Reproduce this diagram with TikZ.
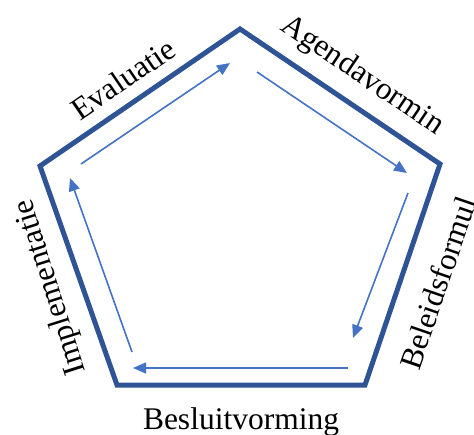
\documentclass[tikz,border=0pt]{standalone}
\usepackage{fontspec}
\setmainfont{Liberation Serif}
\usetikzlibrary{arrows.meta}

\definecolor{rand}{HTML}{2F5496}
\definecolor{pijl}{HTML}{4472C4}

\begin{document}
\begin{tikzpicture}[x=1pt,y=-1pt,
  fase/.style={font=\fontsize{31.5}{36}\selectfont, inner sep=0pt},
  stap/.style={-{Triangle[length=13pt,width=11pt]}, pijl, line width=1.6pt}]
\useasboundingbox (0,0) rectangle (474,434);

% hoekpunten van de vijfhoek
\coordinate (top) at (240,29);
\coordinate (re) at (440,164);
\coordinate (rb) at (365,385);
\coordinate (lb) at (117,385);
\coordinate (li) at (40,166);

\draw[rand, line width=5pt, line join=miter] (top)--(re)--(rb)--(lb)--(li)--cycle;

% pijlen binnen
\coordinate (a1) at (81,164);  \coordinate (b1) at (230,63);
\coordinate (a2) at (257,72);  \coordinate (b2) at (407,173);
\coordinate (a3) at (408,193); \coordinate (b3) at (353,338);
\coordinate (a4) at (348,368); \coordinate (b4) at (133,368);
\coordinate (a5) at (132,352); \coordinate (b5) at (70,178);

\draw[stap] (a1) -- (b1);
\draw[stap] (a2) -- (b2);
\draw[stap] (a3) -- (b3);
\draw[stap] (a4) -- (b4);
\draw[stap] (a5) -- (b5);

% fasen
\node[fase, rotate=34.4] (eval) at (123,79) {Evaluatie};
\node[fase, rotate=-34] (agenda) at (362,76) {Agendavormin};
\node[fase, rotate=71] (beleid) at (438,283) {Beleidsformul};
\node[fase, anchor=base] (besluit) at (241,429) {Besluitvorming};
\node[fase, rotate=107.5] (impl) at (51,287) {Implementatie};

\end{tikzpicture}
\end{document}
